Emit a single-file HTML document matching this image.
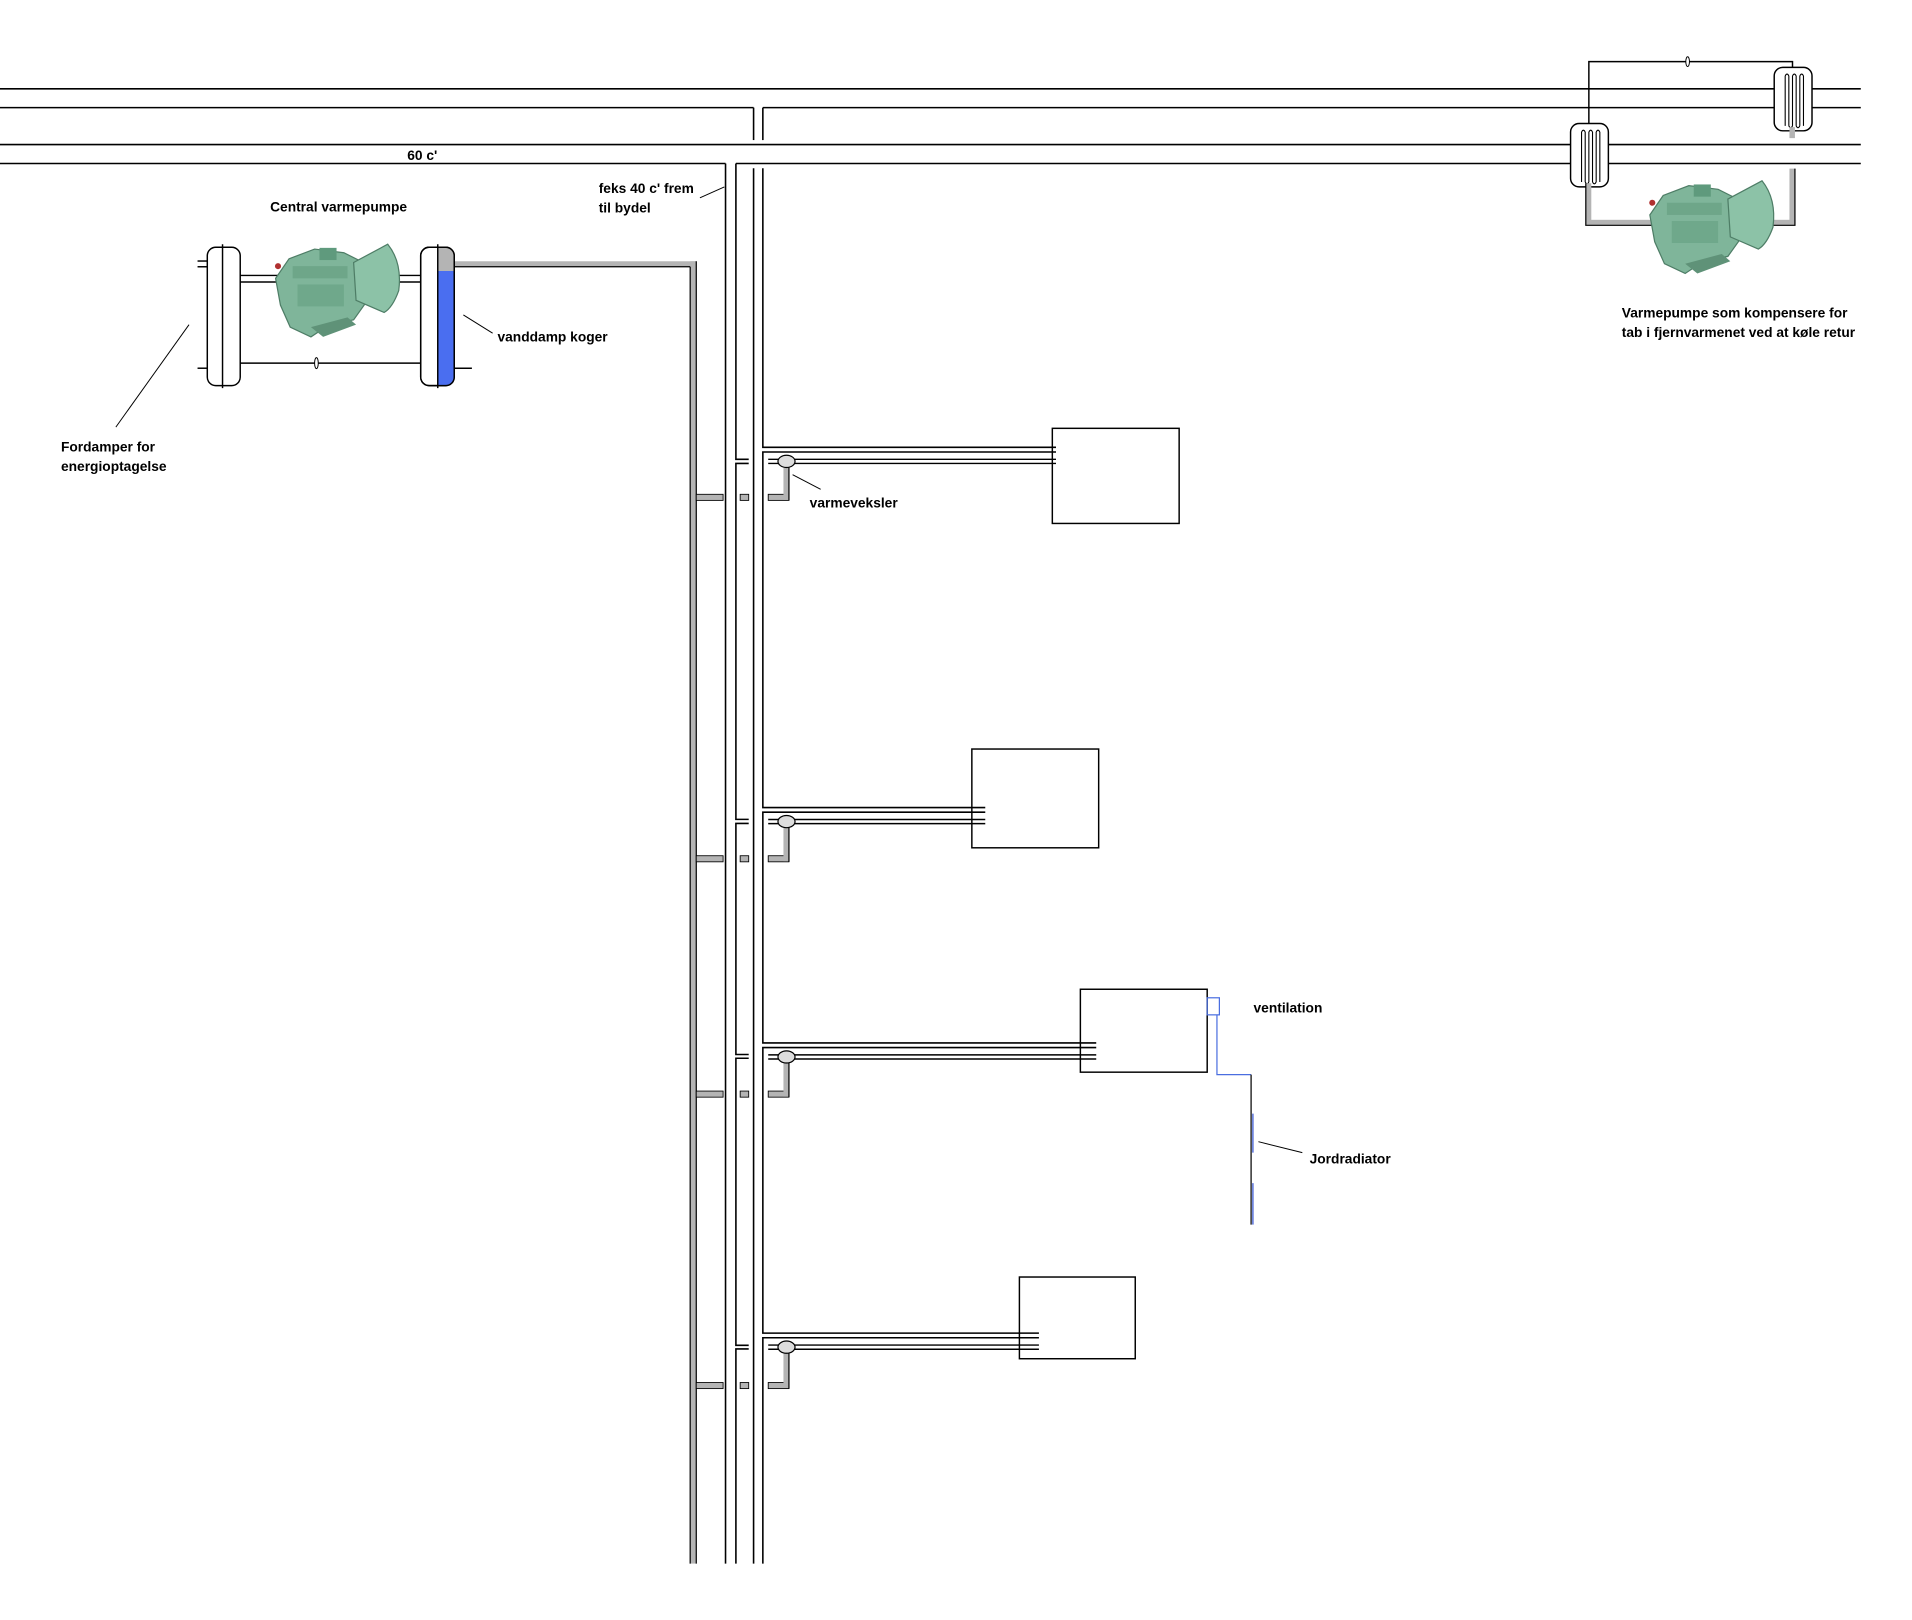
<!DOCTYPE html>
<html><head><meta charset="utf-8"><style>
html,body{margin:0;padding:0;background:#fff}
svg{display:block}
text{font-family:"Liberation Sans",sans-serif;font-weight:bold;font-size:11.3px;fill:#000}
</style></head><body>
<svg width="1912" height="1620" viewBox="0 0 1568 1328" xmlns="http://www.w3.org/2000/svg">
<rect width="1568" height="1328" fill="#fff"/>
<g stroke="#000" stroke-width="1.3" fill="none">
<line x1="0" y1="72.6" x2="1455" y2="72.6"/><line x1="1486" y1="72.6" x2="1526" y2="72.6"/>
<line x1="0" y1="88" x2="618" y2="88"/><line x1="625.6" y1="88" x2="1455" y2="88"/><line x1="1486" y1="88" x2="1526" y2="88"/>
<line x1="618" y1="88" x2="618" y2="114.6"/><line x1="625.6" y1="88" x2="625.6" y2="114.6"/>
<line x1="0" y1="118.3" x2="1288" y2="118.3"/><line x1="1319" y1="118.3" x2="1526" y2="118.3"/>
<line x1="0" y1="133.8" x2="595" y2="133.8"/><line x1="603.5" y1="133.8" x2="1288" y2="133.8"/><line x1="1319" y1="133.8" x2="1526" y2="133.8"/>
<line x1="595" y1="133.8" x2="595" y2="1282"/>
<line x1="618" y1="137.7" x2="618" y2="1282"/>
<polyline points="603.5,133.8 603.5,376.4 614,376.4"/>
<polyline points="614,379.8 603.5,379.8 603.5,671.7 614,671.7"/>
<polyline points="614,675 603.5,675 603.5,864.5 614,864.5"/>
<polyline points="614,867.6 603.5,867.6 603.5,1103 614,1103"/>
<polyline points="614,1106 603.5,1106 603.5,1282"/>
<polyline points="625.6,137.7 625.6,366.6 866,366.6"/>
<polyline points="866,370.4 625.6,370.4 625.6,662 808,662"/>
<polyline points="808,665.8 625.6,665.8 625.6,855 899,855"/>
<polyline points="899,858.8 625.6,858.8 625.6,1093 852,1093"/>
<polyline points="852,1096.8 625.6,1096.8 625.6,1282"/>
</g>
<g fill="#b4b4b4" stroke="none">
<rect x="566" y="214" width="5" height="1068"/>
<rect x="372" y="214" width="199" height="4.5"/>
</g>
<g stroke="#000" stroke-width="1">
<line x1="372" y1="218.5" x2="566" y2="218.5"/>
<line x1="566" y1="218.5" x2="566" y2="1282"/>
<line x1="571" y1="214" x2="571" y2="1282"/>
</g>
<g transform="translate(0,366.6)">
<g stroke="#000" stroke-width="1.2"><line x1="630" y1="9.8" x2="866" y2="9.8"/><line x1="630" y1="13.2" x2="866" y2="13.2"/></g>
<g fill="#b4b4b4" stroke="#000" stroke-width="0.7"><rect x="571" y="38.5" width="22" height="5"/><rect x="607" y="38.5" width="7" height="5"/><rect x="630" y="38.5" width="17" height="5"/><rect x="642.5" y="14" width="4.5" height="29" stroke="none"/></g>
<line x1="647" y1="14" x2="647" y2="43.5" stroke="#000" stroke-width="1"/>
<ellipse cx="645" cy="11.5" rx="7" ry="5" fill="#ddd" stroke="#000" stroke-width="1"/>
</g>
<g transform="translate(0,662)">
<g stroke="#000" stroke-width="1.2"><line x1="630" y1="9.8" x2="808" y2="9.8"/><line x1="630" y1="13.2" x2="808" y2="13.2"/></g>
<g fill="#b4b4b4" stroke="#000" stroke-width="0.7"><rect x="571" y="39.5" width="22" height="5"/><rect x="607" y="39.5" width="7" height="5"/><rect x="630" y="39.5" width="17" height="5"/><rect x="642.5" y="14" width="4.5" height="30" stroke="none"/></g>
<line x1="647" y1="14" x2="647" y2="44.5" stroke="#000" stroke-width="1"/>
<ellipse cx="645" cy="11.5" rx="7" ry="5" fill="#ddd" stroke="#000" stroke-width="1"/>
</g>
<g transform="translate(0,855)">
<g stroke="#000" stroke-width="1.2"><line x1="630" y1="9.8" x2="899" y2="9.8"/><line x1="630" y1="13.2" x2="899" y2="13.2"/></g>
<g fill="#b4b4b4" stroke="#000" stroke-width="0.7"><rect x="571" y="39.5" width="22" height="5"/><rect x="607" y="39.5" width="7" height="5"/><rect x="630" y="39.5" width="17" height="5"/><rect x="642.5" y="14" width="4.5" height="30" stroke="none"/></g>
<line x1="647" y1="14" x2="647" y2="44.5" stroke="#000" stroke-width="1"/>
<ellipse cx="645" cy="11.5" rx="7" ry="5" fill="#ddd" stroke="#000" stroke-width="1"/>
</g>
<g transform="translate(0,1093)">
<g stroke="#000" stroke-width="1.2"><line x1="630" y1="9.8" x2="852" y2="9.8"/><line x1="630" y1="13.2" x2="852" y2="13.2"/></g>
<g fill="#b4b4b4" stroke="#000" stroke-width="0.7"><rect x="571" y="40.5" width="22" height="5"/><rect x="607" y="40.5" width="7" height="5"/><rect x="630" y="40.5" width="17" height="5"/><rect x="642.5" y="14" width="4.5" height="31" stroke="none"/></g>
<line x1="647" y1="14" x2="647" y2="45.5" stroke="#000" stroke-width="1"/>
<ellipse cx="645" cy="11.5" rx="7" ry="5" fill="#ddd" stroke="#000" stroke-width="1"/>
</g>
<g fill="none" stroke="#000" stroke-width="1.2">
<rect x="863" y="351" width="104" height="78"/>
<rect x="797" y="614" width="104" height="81"/>
<rect x="886" y="811" width="104" height="68"/>
<rect x="836" y="1047" width="95" height="67"/>
</g>
<rect x="990" y="818" width="10" height="14" fill="none" stroke="#4a6ee0" stroke-width="1"/>
<polyline points="998,832 998,881 1026,881" fill="none" stroke="#4a6ee0" stroke-width="1"/>
<line x1="1026" y1="881" x2="1026" y2="1004" stroke="#000" stroke-width="1"/>
<line x1="1027.5" y1="913" x2="1027.5" y2="945" stroke="#3050d0" stroke-width="1"/>
<line x1="1027.5" y1="970" x2="1027.5" y2="1004" stroke="#3050d0" stroke-width="1"/>
<line x1="1032" y1="936" x2="1068" y2="945" stroke="#000" stroke-width="0.8"/>
<g stroke="#000" stroke-width="1.2" fill="none">
<line x1="162" y1="213.8" x2="170" y2="213.8"/><line x1="162" y1="218.5" x2="170" y2="218.5"/><line x1="162" y1="301.7" x2="170" y2="301.7"/>
<line x1="197" y1="225.6" x2="345" y2="225.6"/><line x1="197" y1="231" x2="345" y2="231"/>
<line x1="197" y1="297.5" x2="345" y2="297.5"/>
<line x1="372" y1="301.7" x2="387" y2="301.7"/>
</g>
<rect x="345" y="202.5" width="27.5" height="113.5" rx="7" fill="#fff" stroke="#000" stroke-width="1.2"/>
<path d="M359,203 L365.5,203 Q372,203 372,210 L372,222 L359,222 Z" fill="#b4b4b4"/>
<path d="M359,222 L372,222 L372,309 Q372,315.5 365.5,315.5 L359,315.5 Z" fill="#4a6ef0"/>
<rect x="345" y="202.5" width="27.5" height="113.5" rx="7" fill="none" stroke="#000" stroke-width="1.2"/>
<line x1="359" y1="200" x2="359" y2="318" stroke="#000" stroke-width="1.2"/>
<rect x="170" y="202.5" width="27" height="113.5" rx="7" fill="#fff" stroke="#000" stroke-width="1.2"/>
<line x1="182.5" y1="200" x2="182.5" y2="318" stroke="#000" stroke-width="1.2"/>
<ellipse cx="259.5" cy="297.5" rx="1.5" ry="4.5" fill="#fff" stroke="#000" stroke-width="0.8"/>
<g id="comp">
<path d="M237,212 L258,204 L282,207 L298,215 L300,248 L290,262 L270,266 L255,276 L238,268 L230,250 L226,228 Z" fill="#7fb59a" stroke="#4e7d66" stroke-width="1"/>
<path d="M290,215 L318,200 Q330,215 327,238 Q322,252 315,256 L292,246 Z" fill="#8cc2a7" stroke="#4e7d66" stroke-width="1"/>
<rect x="240" y="218" width="45" height="10" fill="#6ea689"/>
<rect x="244" y="233" width="38" height="18" fill="#6fa88b"/>
<rect x="262" y="203" width="14" height="10" fill="#5f9a7d"/>
<circle cx="228" cy="218" r="2.5" fill="#b03030"/>
<path d="M255,268 L285,260 L292,266 L265,276 Z" fill="#5f9278"/>
</g>
<g stroke="#000" stroke-width="1.2" fill="none">
<polyline points="1303,101 1303,50.3 1470,50.3 1470,55"/>
</g>
<ellipse cx="1384" cy="50.3" rx="1.5" ry="4" fill="#fff" stroke="#000" stroke-width="0.8"/>
<rect x="1455" y="55" width="31" height="52" rx="7" fill="#fff" stroke="#000" stroke-width="1.2"/>
<path d="M1464,62 L1464,103 M1467,62 L1467,103 M1470,62 L1470,103 M1473,62 L1473,103 M1476,62 L1476,103 M1479,62 L1479,103 M1464,62 Q1465.5,59 1467,62 M1470,62 Q1471.5,59 1473,62 M1476,62 Q1477.5,59 1479,62 M1467,103 Q1468.5,106 1470,103 M1473,103 Q1474.5,106 1476,103" fill="none" stroke="#000" stroke-width="0.9"/>
<rect x="1288" y="101" width="31" height="52" rx="7" fill="#fff" stroke="#000" stroke-width="1.2"/>
<path d="M1297,108 L1297,149 M1300,108 L1300,149 M1303,108 L1303,149 M1306,108 L1306,149 M1309,108 L1309,149 M1312,108 L1312,149 M1297,108 Q1298.5,105 1300,108 M1303,108 Q1304.5,105 1306,108 M1309,108 Q1310.5,105 1312,108 M1300,149 Q1301.5,152 1303,149 M1306,149 Q1307.5,152 1309,149" fill="none" stroke="#000" stroke-width="0.9"/>
<g fill="#b4b4b4">
<rect x="1467.5" y="104" width="4.5" height="9"/>
<rect x="1467.5" y="138" width="4.5" height="46"/>
<rect x="1440" y="180" width="32" height="4.5"/>
<rect x="1300.5" y="150" width="4.5" height="34"/>
<rect x="1300.5" y="180" width="65" height="4.5"/>
</g>
<g stroke="#000" stroke-width="1">
<polyline points="1300.5,150 1300.5,184.5 1365,184.5" fill="none"/>
<polyline points="1472,138 1472,184.5 1440,184.5" fill="none"/>
</g>
<use href="#comp" transform="translate(1127,-52)"/>
<g stroke="#000" stroke-width="0.8">
<line x1="155" y1="266" x2="95" y2="350"/>
<line x1="380" y1="258" x2="404" y2="273"/>
<line x1="574" y1="162" x2="594" y2="153"/>
<line x1="650" y1="389" x2="673" y2="401"/>
</g>
<text x="334" y="131">60 c'</text>
<text x="221.5" y="173">Central varmepumpe</text>
<text x="491" y="158">feks 40 c' frem</text>
<text x="491" y="174">til bydel</text>
<text x="408" y="280">vanddamp koger</text>
<text x="50" y="370">Fordamper for</text>
<text x="50" y="386">energioptagelse</text>
<text x="664" y="416">varmeveksler</text>
<text x="1028" y="830">ventilation</text>
<text x="1074" y="954">Jordradiator</text>
<text x="1330" y="260">Varmepumpe som kompensere for</text>
<text x="1330" y="276">tab i fjernvarmenet ved at køle retur</text>
</svg>
</body></html>
